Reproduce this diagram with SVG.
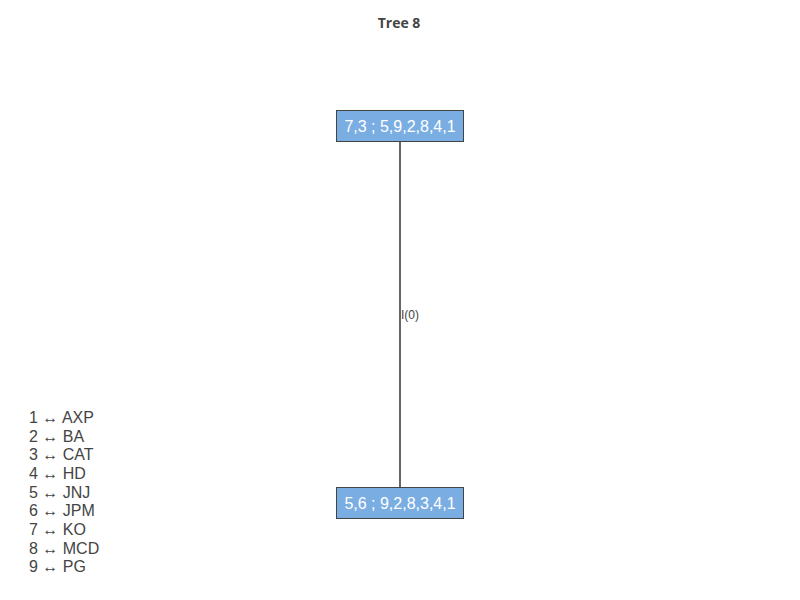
<svg xmlns="http://www.w3.org/2000/svg" width="800" height="600" viewBox="0 0 800 600">
<style>
.node rect{fill:#7aaee3;stroke:#444;stroke-width:1}
.node text{fill:#fff;font-family:"Liberation Sans",Arial,sans-serif;font-size:16px;text-anchor:middle}
.edge{stroke:#333;stroke-width:1.5}
.elabel{fill:#444;font-family:"Liberation Sans",Arial,sans-serif;font-size:12px}
.legend{fill:#444;font-family:"Liberation Sans",Arial,sans-serif;font-size:16px}
.title{fill:#444;font-family:"Open Sans",sans-serif;font-size:14px;font-weight:bold;text-anchor:middle}
</style>
<rect width="800" height="600" fill="#fff"/>
<text class="title" x="399" y="28">Tree 8</text>
<g id="connectors">
<line class="edge" x1="400" y1="141" x2="400" y2="487"/>
<text class="elabel" x="401" y="319">I(0)</text>
</g>
<g id="node1" class="node">
<rect x="336.5" y="110.5" width="127" height="31"/>
<text x="400" y="132">7,3 ; 5,9,2,8,4,1</text>
</g>
<g id="node2" class="node">
<rect x="336.5" y="487.5" width="127" height="31"/>
<text x="400" y="509">5,6 ; 9,2,8,3,4,1</text>
</g>
<g id="legend" class="legend">
<text x="29" y="423">1 ↔ AXP</text>
<text x="29" y="442">2 ↔ BA</text>
<text x="29" y="460">3 ↔ CAT</text>
<text x="29" y="479">4 ↔ HD</text>
<text x="29" y="498">5 ↔ JNJ</text>
<text x="29" y="516">6 ↔ JPM</text>
<text x="29" y="535">7 ↔ KO</text>
<text x="29" y="554">8 ↔ MCD</text>
<text x="29" y="572">9 ↔ PG</text>
</g>
</svg>
